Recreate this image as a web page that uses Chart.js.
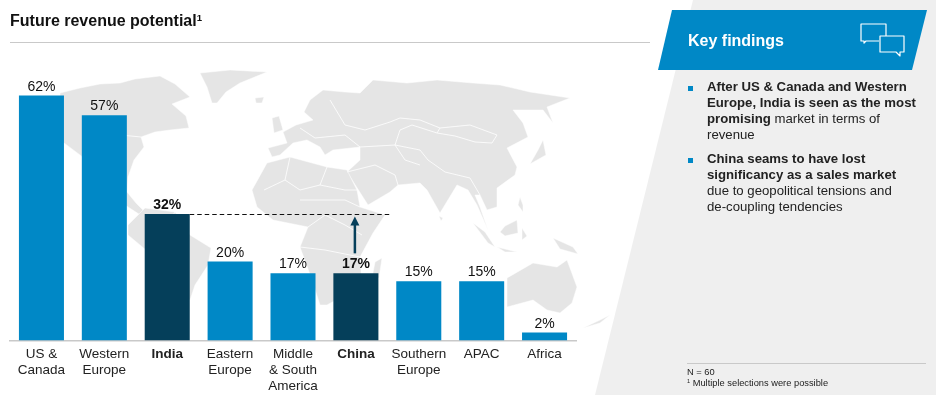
<!DOCTYPE html>
<html><head><meta charset="utf-8">
<script src="https://cdn.jsdelivr.net/npm/chart.js@4"></script>
<style>
html,body{margin:0;padding:0;background:#fff;width:936px;height:395px;overflow:hidden;font-family:"Liberation Sans",Arial,sans-serif}
#bg,#chart{position:absolute;left:0;top:0}
.t{position:absolute;white-space:nowrap}
.b{font-weight:bold}
sup{font-size:60%;line-height:0;vertical-align:baseline;position:relative;top:-.55em}
</style></head><body>
<svg id="bg" width="936" height="395">
<polygon points="693,0 936,0 936,395 595,395" fill="#efefef"/>
<g fill="#e5e5e5" stroke="#fff" stroke-width=".5" stroke-linejoin="round">
<polygon points="60,93 80,88 100,84 120,83 135,79 160,76 175,84 190,97 172,104 186,116 189,128 170,130 155,132 141,137 144,147 134,160 128,177 127,192 136,203 145,212 145,218 125,205 100,170 60,140"/>
<polygon points="200,73 230,70 267,72 240,83 226,92 217,103 212,103 207,87"/>
<polygon points="128,225 145,208 175,212 190,235 211,248 208,265 195,285 190,300 185,300 170,270 140,245 128,235"/>
<polygon points="268,148 287,143 283,132 296,125 313,120 304,112 310,100 323,90 345,92 360,93 373,80 407,83 437,80 473,83 500,85 530,92 570,98 547,107 553,123 543,110 513,110 523,123 528,137 507,148 517,167 515,175 497,188 497,207 487,210 480,195 475,195 480,207 488,230 477,205 468,190 457,185 440,213 427,190 420,183 398,185 390,192 368,205 347,172 360,160 360,147 333,150 325,155 320,147 307,140 293,143 280,155 272,157"/>
<polygon points="252,190 267,163 290,157 327,167 347,170 357,190 360,207 385,215 373,233 360,257 362,285 345,295 327,305 320,305 312,280 300,247 308,227 273,220 257,207"/>
<polygon points="507,278 533,263 557,267 567,260 577,287 572,303 560,313 547,310 533,300 507,307"/>
<polygon points="583,328 600,320 610,315 600,323"/>
<polygon points="473,223 485,232 495,247 488,243"/>
<polygon points="497,247 517,252 505,252"/>
<polygon points="500,232 505,226 517,220 518,233 505,236"/>
<polygon points="553,238 573,247 578,254 560,249"/>
<polygon points="543,140 546,155 530,164 538,150"/>
<polygon points="520,197 523,205 523,212 518,205"/>
<polygon points="522,228 527,236 522,240"/>
<polygon points="272,118 279,116 283,130 274,133"/>
<polygon points="255,98 264,97 262,103 256,103"/>
<polygon points="375,262 382,258 379,278 372,278"/>
<polygon points="439,216 443,218 441,221"/>
</g>
<g fill="none" stroke="#fff" stroke-width=".8">
<polyline points="390,122 400,118 420,120 440,128 437,133 412,125 400,130 395,145"/>
<polyline points="440,128 470,125 497,135 492,143 475,142 455,136 437,133"/>
<polyline points="395,145 420,150 428,160 445,172 470,178 480,195"/>
<polyline points="347,172 375,165 395,175 398,185"/>
<polyline points="360,147 395,145 405,160 420,165"/>
<polyline points="264,190 285,180 300,190 320,185 345,190 357,190"/>
<polyline points="285,180 290,157"/>
<polyline points="320,185 327,167"/>
<polyline points="300,200 345,200 360,207"/>
<polyline points="308,227 325,215 345,225 362,235"/>
<polyline points="300,247 325,250 360,257"/>
<polyline points="330,100 345,125 365,130 390,122"/>
<polyline points="300,128 315,138 345,135 360,147"/>
<polyline points="100,133 141,137"/>
<polyline points="150,250 175,212"/>
</g>
<polygon points="672,10 927,10 912,70 658,70" fill="#0088c6"/>
<g fill="none" stroke="#fff" stroke-width="1.2" stroke-linejoin="round">
<path d="M879 41H866L864 43V41H861V24H886V36"/>
<path d="M880 36H904V52H900V56L896 52H880Z"/>
</g>
<rect x="10" y="42" width="640" height="1" fill="#c9c9c9"/>
<rect x="687" y="363" width="239" height="1" fill="#c9c9c9"/>
<rect x="688" y="86" width="5" height="5" fill="#0088c6"/>
<rect x="688" y="158" width="5" height="5" fill="#0088c6"/>
</svg>
<canvas id="chart" width="936" height="395"></canvas>
<div class="t b" style="left:10px;top:11px;font-size:16px;line-height:20px;color:#111">Future revenue potential<sup>1</sup></div>
<div class="t b" style="left:688px;top:31px;font-size:16px;line-height:20px;color:#fff">Key findings</div>
<div class="t" style="left:707px;top:79px;font-size:13.2px;line-height:16px;color:#222"><span class="b">After US &amp; Canada and Western<br>Europe, India is seen as the most<br>promising</span> market in terms of<br>revenue</div>
<div class="t" style="left:707px;top:151px;font-size:13.2px;line-height:16px;color:#222"><span class="b">China seams to have lost<br>significancy as a sales market</span><br>due to geopolitical tensions and<br>de-coupling tendencies</div>
<div class="t" style="left:687px;top:367px;font-size:9.3px;line-height:11px;color:#222">N = 60<br><sup>1</sup> Multiple selections were possible</div>
<script>
const categories = [["US &","Canada"],["Western","Europe"],"India",["Eastern","Europe"],["Middle","& South","America"],"China",["Southern","Europe"],"APAC","Africa"];
const values = [62,57,32,20,17,17,15,15,2];
const valueLabels = ["62%","57%","32%","20%","17%","17%","15%","15%","2%"];
const highlighted = [2,5];
const barBlue = "#0088c6", barDark = "#053f5a";

const annotate = {
  id:"annotate",
  afterDatasetsDraw(c){
    const g=c.ctx, x=c.scales.x, y=c.scales.y;
    const meta=c.getDatasetMeta(0);
    g.save();
    g.textAlign="center"; g.textBaseline="alphabetic";
    values.forEach((v,i)=>{
      const hi=highlighted.includes(i);
      g.font=(hi?"bold ":"")+"14px 'Liberation Sans'";
      g.fillStyle="#111";
      g.fillText(valueLabels[i],meta.data[i].x,y.getPixelForValue(v)-5);
    });
    const yTop=Math.round(y.getPixelForValue(values[2]))+.5;
    g.strokeStyle="#111"; g.lineWidth=1; g.setLineDash([4.5,3]);
    g.beginPath(); g.moveTo(meta.data[2].x+22.5,yTop); g.lineTo(392,yTop); g.stroke();
    g.setLineDash([]);
    const ax=meta.data[5].x-1, yBot=y.getPixelForValue(values[5])-20;
    g.strokeStyle=barDark; g.fillStyle=barDark; g.lineWidth=2.5;
    g.beginPath(); g.moveTo(ax,yBot); g.lineTo(ax,yTop+8); g.stroke();
    g.beginPath(); g.moveTo(ax,yTop+2); g.lineTo(ax+4.5,yTop+11); g.lineTo(ax-4.5,yTop+11); g.closePath(); g.fill();
    g.restore();
  }
};

new Chart(document.getElementById("chart"),{
  type:"bar",
  data:{labels:categories,datasets:[{data:values,
    backgroundColor:values.map((_,i)=>highlighted.includes(i)?barDark:barBlue),
    categoryPercentage:1,barPercentage:.716,borderWidth:0}]},
  plugins:[annotate],
  options:{
    responsive:false,animation:false,devicePixelRatio:1,
    layout:{padding:{left:10,right:360,top:64,bottom:0}},
    plugins:{legend:{display:false},tooltip:{enabled:false},title:{display:false}},
    scales:{
      x:{
        afterFit(s){s.height=54.5;},
        grid:{display:false,drawTicks:false},
        border:{color:"#c9c9c9",width:1.5},
        ticks:{autoSkip:false,maxRotation:0,minRotation:0,padding:6,color:"#222",
          font(ctx){return {family:"'Liberation Sans'",size:13.5,lineHeight:1.19,weight:highlighted.includes(ctx.index)?"bold":"normal"};}}
      },
      y:{display:false,min:0,max:70}
    }
  }
});
</script>
</body></html>
